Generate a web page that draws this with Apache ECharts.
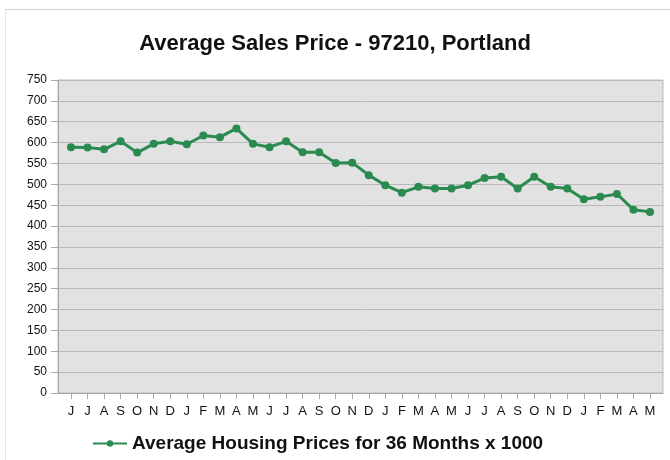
<!DOCTYPE html>
<html>
<head>
<meta charset="utf-8">
<title>Average Sales Price - 97210, Portland</title>
<script src="https://cdn.jsdelivr.net/npm/echarts@6/dist/echarts.min.js"></script>
<style>
  html, body { margin: 0; padding: 0; background: #fff; }
  #wrap { position: relative; width: 670px; height: 460px; }
  #frame { position: absolute; left: 5px; top: 9px; right: 0; bottom: 0;
    border-top: 1px solid #c9d0db; border-left: 1px solid #e2e6ec; }
  #chart { position: absolute; left: 0; top: 0; width: 670px; height: 460px; }
</style>
</head>
<body>
<div id="wrap">
  <div id="frame"></div>
  <div id="chart"></div>
</div>
<script>
// months, June through May, three years
const months = ['J', 'J', 'A', 'S', 'O', 'N', 'D', 'J', 'F', 'M', 'A', 'M',
  'J', 'J', 'A', 'S', 'O', 'N', 'D', 'J', 'F', 'M', 'A', 'M',
  'J', 'J', 'A', 'S', 'O', 'N', 'D', 'J', 'F', 'M', 'A', 'M']
// average sales price, x1000
const prices = [589, 588, 584, 603, 576, 597, 603, 596, 617, 613, 634, 597,
  589, 603, 577, 577, 551, 552, 522, 498, 480, 494, 490, 490,
  498, 515, 518, 490, 518, 494, 490, 464, 470, 477, 439, 434]
const yMin = 0
const yMax = 750
const yStep = 50

const green = '#2b8a50'
const font = 'Liberation Sans, Arial, sans-serif'

const chart = echarts.init(document.getElementById('chart'))
const option = {
  animation: false,
  title: {
    text: 'Average Sales Price - 97210, Portland',
    left: 'center',
    top: 28,
    textStyle: { fontFamily: font, fontSize: 22, fontWeight: 'bold', color: '#111' }
  },
  legend: {
    left: 87,
    top: 429,
    itemWidth: 34,
    itemHeight: 8,
    itemGap: 3,
    textStyle: { fontFamily: font, fontSize: 19, fontWeight: 'bold', color: '#111' },
    data: ['Average Housing Prices for 36 Months x 1000']
  },
  grid: [
    { // plot background
      left: 58, right: 7, top: 80, bottom: 67,
      show: true, backgroundColor: '#e2e2e2', borderColor: '#bdbdbd', borderWidth: 1
    },
    { // data area
      left: 71, right: 20, top: 80, bottom: 67
    }
  ],
  xAxis: [
    {
      gridIndex: 0,
      type: 'category',
      data: months,
      axisLine: { show: true, lineStyle: { color: '#a8a8a8' } },
      axisTick: { show: false },
      axisLabel: { show: false },
      splitLine: { show: false }
    },
    {
      gridIndex: 1,
      type: 'category',
      boundaryGap: false,
      data: months,
      axisLine: { show: false },
      axisTick: { show: true, length: 6, lineStyle: { color: '#a8a8a8' } },
      axisLabel: { interval: 0, margin: 12, fontFamily: font, fontSize: 13, color: '#111' },
      splitLine: { show: false }
    }
  ],
  yAxis: [
    {
      gridIndex: 0,
      type: 'value',
      min: yMin,
      max: yMax,
      interval: yStep,
      axisLine: { show: true, lineStyle: { color: '#a8a8a8' } },
      axisTick: { show: true, length: 7, lineStyle: { color: '#a8a8a8' } },
      axisLabel: { margin: 11, fontFamily: font, fontSize: 12, color: '#111' },
      splitLine: { show: true, lineStyle: { color: '#b9b9b9', width: 1 } }
    },
    {
      gridIndex: 1,
      type: 'value',
      min: yMin,
      max: yMax,
      show: false,
      splitLine: { show: false }
    }
  ],
  series: [{
    name: 'Average Housing Prices for 36 Months x 1000',
    type: 'line',
    xAxisIndex: 1,
    yAxisIndex: 1,
    data: prices,
    symbol: 'circle',
    symbolSize: 8,
    lineStyle: { color: green, width: 3 },
    itemStyle: { color: green }
  }]
}
chart.setOption(option)
</script>
</body>
</html>
